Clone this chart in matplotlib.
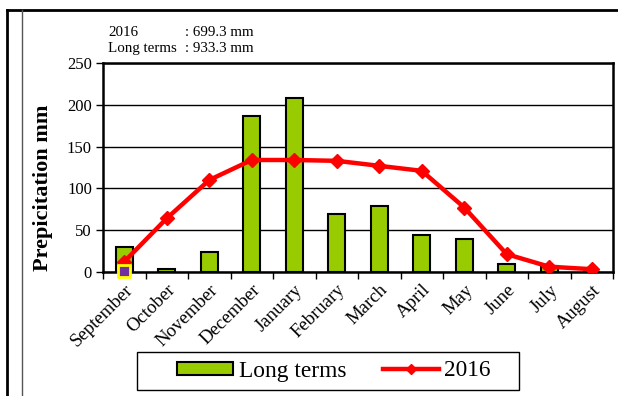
import matplotlib
matplotlib.use("Agg")
import matplotlib.pyplot as plt
from matplotlib.lines import Line2D
from matplotlib.patches import Rectangle
import numpy as np

months = ["September", "October", "November", "December", "January", "February",
          "March", "April", "May", "June", "July", "August"]
long_terms = [30, 3, 24, 187, 208, 69, 79, 44, 39, 9, 7, 0]
year_2016 = [12, 64, 110, 134, 134, 133, 127, 121, 77, 21, 6, 3]
y_ticks = [0, 50, 100, 150, 200, 250]

plt.rcParams["font.family"] = ["Liberation Serif", "DejaVu Serif"]

W, H = 618, 396
fig = plt.figure(figsize=(W / 100, H / 100), dpi=100)
ax = fig.add_axes([103 / W, 1 - 271.7 / H, 510 / W, 208.4 / H])

x = np.arange(len(months))
ax.bar(x, long_terms, width=0.4, color="#99CC00", edgecolor="black",
       linewidth=1.5, zorder=3, label="Long terms")
ax.plot(x, year_2016, color="#FF0000", linewidth=3.2, marker="D", markersize=7.5,
        zorder=4, label="2016")
# highlighted first point marker at the base
ax.scatter([0], [0.5], marker="s", s=75, color="#7030A0", edgecolor="#FFFF00",
           linewidth=2, zorder=5, clip_on=False)

ax.set_xlim(-0.5, len(months) - 0.5)
ax.set_ylim(0, 250)
ax.set_yticks(y_ticks)
ax.set_yticklabels([str(v) for v in y_ticks], fontsize=12)
ax.yaxis.grid(True, color="black", linewidth=1, zorder=0)
ax.set_axisbelow(True)

# category ticks on boundaries, labels at centers
ax.set_xticks(np.arange(-0.5, len(months), 1.0), minor=False)
ax.set_xticklabels([])
ax.set_xticks(x, minor=True)
ax.set_xticklabels(months, minor=True, rotation=45, ha="right",
                   rotation_mode="anchor", fontsize=13.5)
ax.tick_params(axis="x", which="minor", length=0, pad=7)
ax.tick_params(axis="x", which="major", length=5, width=1, direction="out")
ax.tick_params(axis="y", length=5, width=1, direction="out", pad=3)

for s in ax.spines.values():
    s.set_linewidth(1.8)
    s.set_color("black")

ax.set_ylabel("Prepicitation mm", fontsize=16, fontweight="bold")
ax.yaxis.set_label_coords(-0.098, 0.405)

# legend with its own frame
handles = [Rectangle((0, 0), 1, 1, facecolor="#99CC00", edgecolor="black", linewidth=1.5),
           Line2D([0], [0], color="#FF0000", linewidth=3.2, marker="D", markersize=5.5)]
fig.legend(handles, ["Long terms", "2016"], loc="center",
           bbox_to_anchor=(334 / W, 1 - 371 / H), ncol=2, frameon=False,
           fontsize=16.8, handlelength=2.4, handleheight=0.5,
           handletextpad=0.25, columnspacing=1.55, borderpad=0.2)
fig.add_artist(Rectangle((137 / W, 1 - 390 / H), (519 - 137) / W, 38 / H,
                         transform=fig.transFigure, facecolor="none",
                         edgecolor="black", linewidth=1))

fig.text(108 / W, 1 - 36 / H, "2016", fontsize=10.8, va="baseline")
fig.text(185 / W, 1 - 36 / H, ": 699.3 mm", fontsize=10.8, va="baseline")
fig.text(108 / W, 1 - 52 / H, "Long terms", fontsize=10.8, va="baseline")
fig.text(185 / W, 1 - 52 / H, ": 933.3 mm", fontsize=10.8, va="baseline")

# outer page frame
fig.add_artist(Line2D([7 / W, 7 / W], [0, 1 - 10 / H], color="black", linewidth=2))
fig.add_artist(Line2D([7 / W, 1], [1 - 10 / H, 1 - 10 / H], color="black", linewidth=2))
fig.add_artist(Line2D([22 / W, 22 / W], [0, 1 - 10 / H], color="#555555", linewidth=1))

fig.savefig("out.png", dpi=100)
